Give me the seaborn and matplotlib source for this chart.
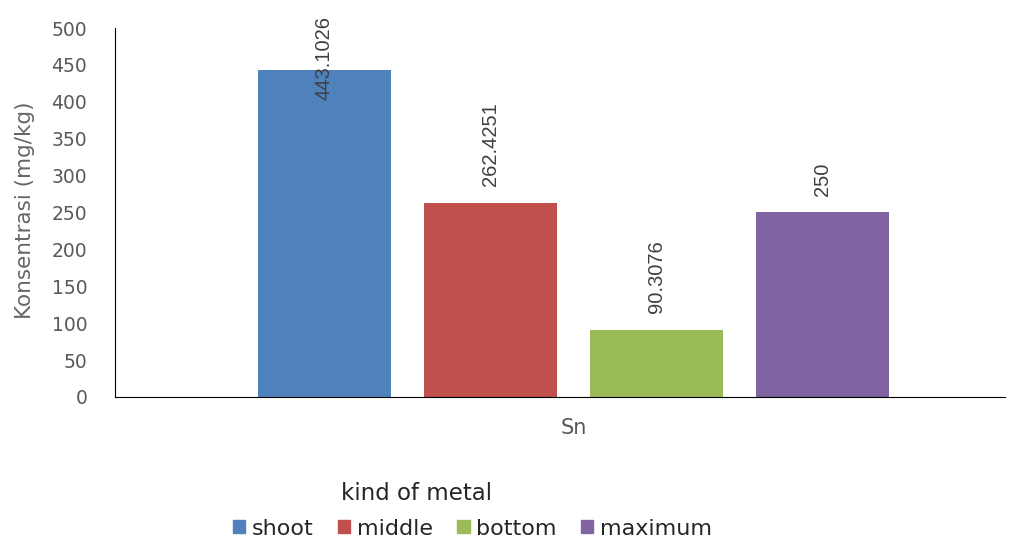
import pandas as pd
import matplotlib
matplotlib.use('Agg')
import matplotlib.pyplot as plt
import seaborn as sns

# =========================================================
# DATOS
# =========================================================
metal = ['Sn', 'Sn', 'Sn', 'Sn']
posicion = ['shoot', 'middle', 'bottom', 'maximum']
konsentrasi = [443.1026, 262.4251, 90.3076, 250]
etiquetas = ['443.1026', '262.4251', '90.3076', '250']
colores = ['#4F81BD', '#C0504D', '#9BBB59', '#8064A2']

df = pd.DataFrame({'metal': metal, 'kind': posicion, 'valor': konsentrasi})

sns.set_style('white')
plt.rcParams['font.family'] = ['DejaVu Sans']

fig = plt.figure(figsize=(10.22, 5.45), dpi=100)
ax = fig.add_axes([0.1125, 0.2716, 0.871, 0.677])

sns.barplot(data=df, x='metal', y='valor', hue='kind', hue_order=posicion,
            palette=colores, width=0.746, gap=0.2, saturation=1,
            linewidth=0, legend=False, ax=ax)

ax.set_xlim(-0.515, 0.485)
ax.set_ylim(0, 500)
ax.set_yticks(range(0, 501, 50))

# etiquetas de valor encima de las barras
for barra, texto, v in zip(ax.patches, etiquetas, konsentrasi):
    x = barra.get_x() + barra.get_width() / 2
    y = min(v + 23, 402)
    ax.text(x, y, texto, rotation=90, ha='center', va='bottom',
            fontsize=14.5, color='#404040', family='Liberation Sans',
            clip_on=False)

# ejes
for lado in ['top', 'right']:
    ax.spines[lado].set_visible(False)
ax.spines['left'].set_color('black')
ax.spines['bottom'].set_color('black')
ax.tick_params(axis='both', length=0, colors='#595959', labelsize=13.5)
ax.tick_params(axis='y', pad=20)
ax.tick_params(axis='x', pad=15)
for t in ax.get_xticklabels():
    t.set_fontsize(15)

ax.set_xlabel('')
ax.set_ylabel('Konsentrasi (mg/kg)', fontsize=15.5, color='#666666')
ax.yaxis.set_label_coords(-0.09, 0.505)

# leyenda
fig.text(0.408, 0.095, 'kind of metal', ha='center', va='center',
         fontsize=16.5, color='#262626')
manijas = [plt.Rectangle((0, 0), 1, 1, color=c) for c in colores]
fig.legend(manijas, posicion, loc='center left',
           bbox_to_anchor=(0.228, 0.03), ncol=4, frameon=False,
           fontsize=16, borderpad=0, borderaxespad=0,
           handlelength=0.55, handleheight=0.55,
           handletextpad=0.3, columnspacing=1.1, labelcolor='#262626')

fig.savefig('out.png', dpi=100)
